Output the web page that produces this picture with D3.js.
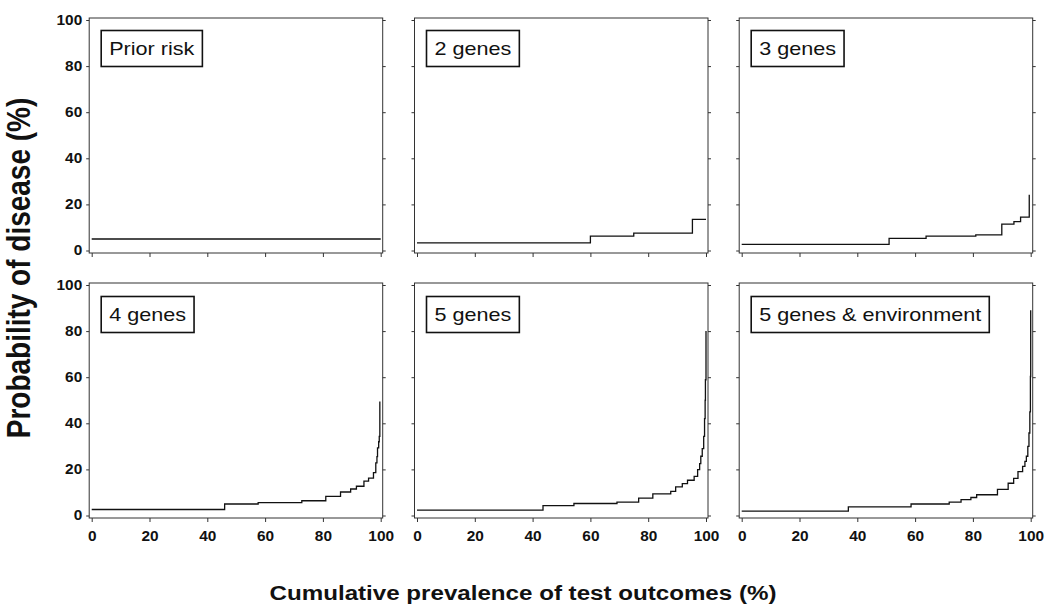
<!DOCTYPE html>
<html>
<head>
<meta charset="utf-8">
<script src="https://cdn.jsdelivr.net/npm/d3@7"></script>
<style>
  body { margin: 0; background: #fff; }
  svg { font-family: "Liberation Sans", Arial, sans-serif; }
</style>
</head>
<body>
<svg id="chart" width="1045" height="611"></svg>
<script>
// tick values shared by every panel
const xTicks = [0, 20, 40, 60, 80, 100];
const yTicks = [0, 20, 40, 60, 80, 100];

const panelTitles = ["Prior risk", "2 genes", "3 genes", "4 genes", "5 genes", "5 genes & environment"];

// step curves: [cumulative prevalence %, probability of disease %]
const priorRisk = [[0, 5], [100, 5]];
const twoGenes = [[0, 3.3], [60, 6.2], [75, 7.5], [95.3, 13.5], [100, 13.5]];
const threeGenes = [[0, 2.7], [51, 5.3], [63.8, 6.2], [81, 6.8], [90, 11.4], [94.2, 12.5], [96.5, 14.5], [99.5, 24.2]];
const fourGenes = [[0, 2.6], [46, 5.0], [57.6, 5.6], [72.7, 6.4], [81, 8.3], [86.1, 10.2], [89.6, 11.5],
  [91.6, 12.7], [94.2, 14.9], [95.8, 16.2], [97.5, 18.6], [98.3, 22.8], [98.7, 25.5], [98.9, 29.3],
  [99.3, 32], [99.5, 34.3], [99.7, 49.5]];
const fiveGenes = [[0, 2.3], [43.6, 4.3], [54.3, 5.2], [69.2, 5.8], [76.7, 7.5], [81.6, 9.4], [87.8, 10.5],
  [89.5, 12.4], [91.8, 13.8], [93.6, 15.3], [95.9, 17], [97.1, 19.9], [97.8, 22.5], [98.2, 25.7],
  [98.7, 29], [99.2, 34.3], [99.5, 42], [99.7, 50], [99.8, 58.9], [100, 80]];
const fiveGenesEnv = [[0, 1.9], [36.9, 3.7], [58.6, 5.0], [71.8, 5.8], [75.9, 6.9], [79.3, 7.8], [81.3, 9],
  [88.5, 11.3], [92.2, 14], [94.1, 16.1], [95.6, 19], [97.2, 21.3], [98, 23.5], [98.5, 25.7], [99, 30],
  [99.4, 35.8], [99.7, 45], [99.9, 60.3], [100, 89]];

const panelSeries = [priorRisk, twoGenes, threeGenes, fourGenes, fiveGenes, fiveGenesEnv];

const svg = d3.select("#chart");

// panel layout
const colLeft = [91.7, 417, 741.7];
const rowBase = [250.5, 515.5];
const plotW = 289, plotH = 230.5;
const stretch = 1.2;      // the scanned figure is wider than tall
const tickStretch = 1.1;
const ink = "#111";

panelSeries.forEach((series, i) => {
  const col = i % 3, row = Math.floor(i / 3);

  const x = d3.scaleLinear().domain([0, 100]).range([colLeft[col], colLeft[col] + plotW]);
  const y = d3.scaleLinear().domain([0, 100]).range([rowBase[row], rowBase[row] - plotH]);

  const left = x(0) - 2.5, right = x(100) + 2;
  const top = y(100) - 2, bottom = y(0) + 2.5;

  const g = svg.append("g").attr("class", "panel");

  // frame
  g.append("rect")
    .attr("x", left).attr("y", top)
    .attr("width", right - left).attr("height", bottom - top)
    .attr("fill", "none").attr("stroke", "#333").attr("stroke-width", 1);

  // Y - Left Axis
  const yl = g.append("g")
    .attr("transform", `translate(${left},0)`)
    .call(d3.axisLeft(y).tickValues(yTicks).tickSize(3).tickPadding(5)
      .tickFormat(col === 0 ? d3.format("d") : () => ""));

  // Y - Right Axis (ticks only)
  const yr = g.append("g")
    .attr("transform", `translate(${right},0)`)
    .call(d3.axisRight(y).tickValues(yTicks).tickSize(3).tickFormat(() => ""));

  // X - Axis
  const xa = g.append("g")
    .attr("transform", `translate(0,${bottom})`)
    .call(d3.axisBottom(x).tickValues(xTicks).tickSize(4).tickPadding(9)
      .tickFormat(row === 1 ? d3.format("d") : () => ""));

  [yl, yr, xa].forEach(a => {
    a.select(".domain").remove();
    a.selectAll("line").attr("stroke", "#333");
    a.selectAll("text")
      .attr("fill", ink)
      .attr("font-family", "Liberation Sans, Arial, sans-serif")
      .attr("font-size", 14)
      .attr("font-weight", "bold");
  });
  yl.selectAll("text").attr("transform", `scale(${tickStretch},1)`).attr("x", -7 / tickStretch);
  xa.selectAll("text").attr("transform", `scale(${tickStretch},1)`);

  // step line
  const line = d3.line()
    .x(d => x(d[0]))
    .y(d => y(d[1]))
    .curve(d3.curveStepAfter);

  g.append("path")
    .datum(series)
    .attr("fill", "none")
    .attr("stroke", ink)
    .attr("stroke-width", 1.3)
    .attr("d", line);

  // panel title box
  const lab = g.append("g")
    .attr("transform", `translate(${x(0) + 9.5},${y(100) + 10.5 + row})`);
  const box = lab.append("rect")
    .attr("height", 36)
    .attr("fill", "#fff").attr("stroke", ink).attr("stroke-width", 1.6);
  const txt = lab.append("text")
    .attr("transform", `translate(8,24.5) scale(${stretch},1)`)
    .attr("font-size", 18)
    .attr("fill", ink)
    .text(panelTitles[i]);
  box.attr("width", txt.node().getComputedTextLength() * stretch + 16);
});

// X - Axis Label
svg.append("text")
  .attr("transform", `translate(523,600) scale(1.15,1)`)
  .attr("text-anchor", "middle")
  .attr("font-size", 21)
  .attr("font-weight", "bold")
  .attr("fill", ink)
  .text("Cumulative prevalence of test outcomes (%)");

// Y - Axis Label
svg.append("text")
  .attr("transform", `translate(30,268) rotate(-90) scale(1,${stretch})`)
  .attr("text-anchor", "middle")
  .attr("font-size", 28)
  .attr("font-weight", "bold")
  .attr("fill", ink)
  .text("Probability of disease (%)");
</script>
</body>
</html>
